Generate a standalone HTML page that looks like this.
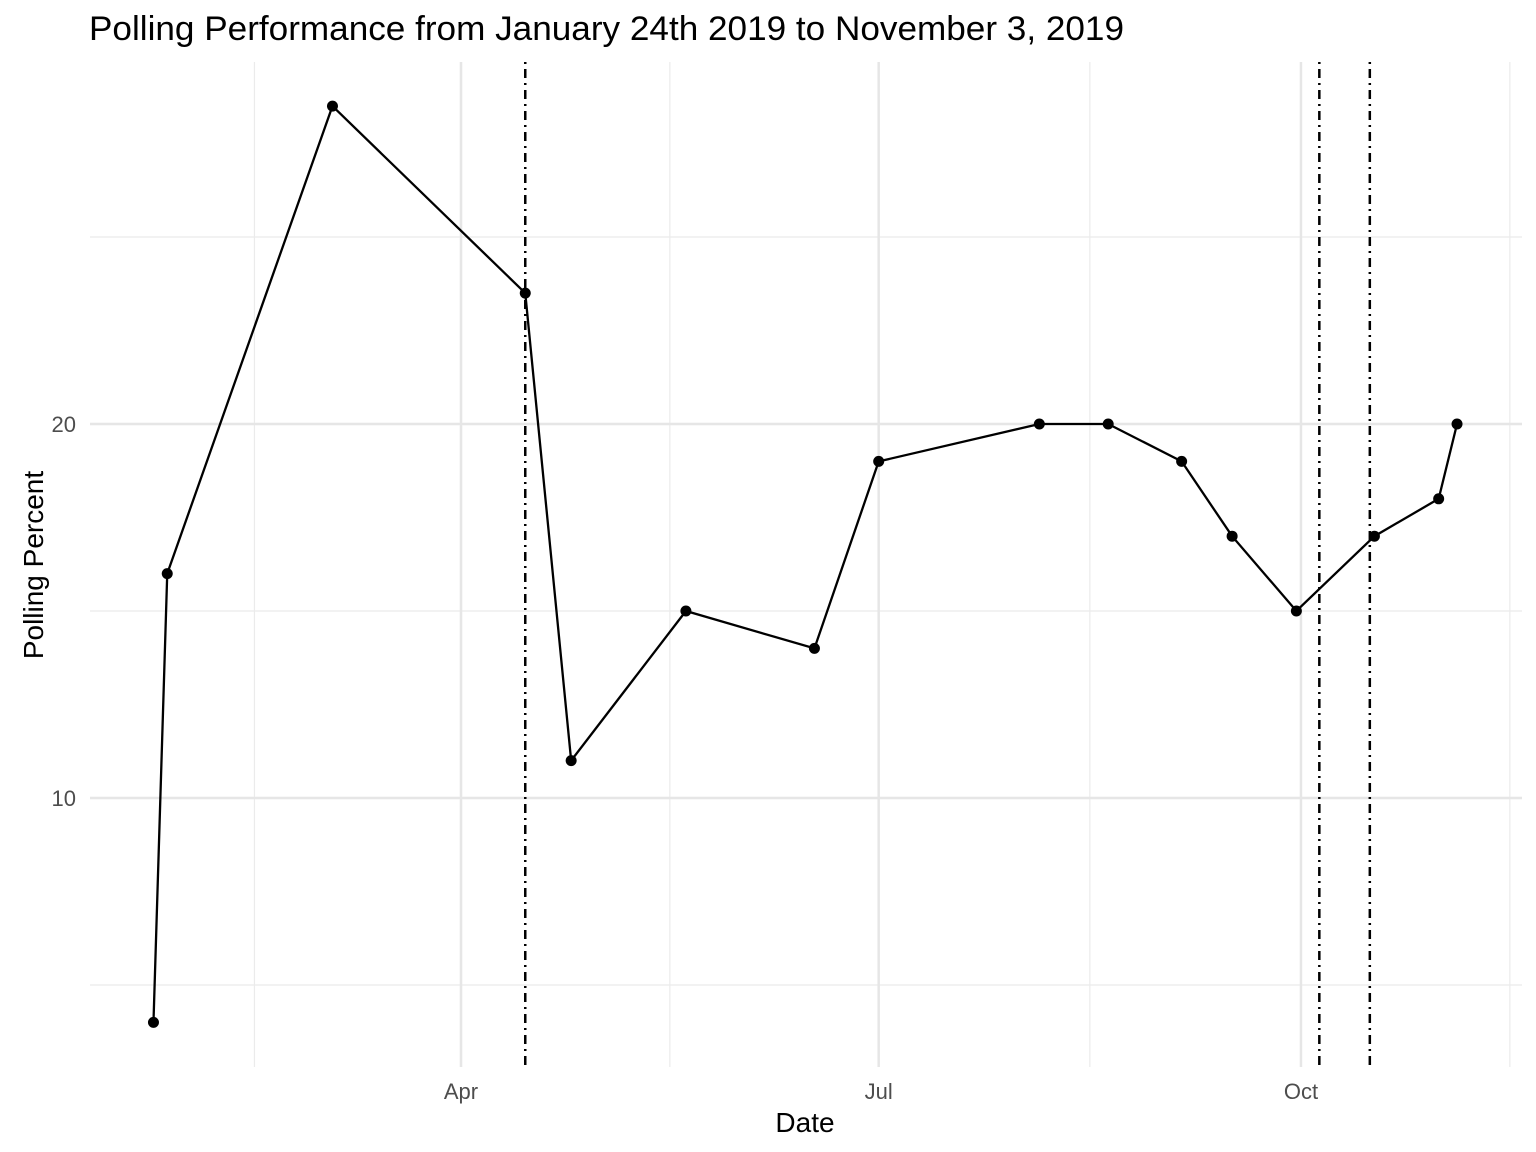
<!DOCTYPE html>
<html><head><meta charset="utf-8"><style>
body{margin:0;background:#fff;}
svg{display:block;font-family:"Liberation Sans",Arial,sans-serif;}
</style></head><body>
<svg id="chart" width="1536" height="1152" viewBox="0 0 1536 1152">
<text x="89" y="40" font-size="34" textLength="1035" lengthAdjust="spacingAndGlyphs" fill="#000">Polling Performance from January 24th 2019 to November 3, 2019</text>
<g id="grid"></g>
<g id="vlines"></g>
<g id="series"></g>
<g id="axes"></g>
<text x="805" y="1132" font-size="28" text-anchor="middle" fill="#000">Date</text>
<text transform="translate(43,565) rotate(-90)" font-size="28" text-anchor="middle" fill="#000">Polling Percent</text>
</svg>
<script>
// day-of-year (2019) and polling values
const dates = [24, 27, 63, 105, 115, 140, 168, 182, 217, 232, 248, 259, 273, 290, 304, 308];
const values = [4, 16, 28.5, 23.5, 11, 15, 14, 19, 20, 20, 19, 17, 15, 17, 18, 20];
const eventDates = [105, 278, 289];
const xTickDays = [91, 182, 274];
const xTickLabels = ["Apr", "Jul", "Oct"];
const xMinorDays = [46, 136.5, 228, 319.5];
const yTicks = [10, 20];
const yMinor = [5, 15, 25];

const NS = "http://www.w3.org/2000/svg";
const L = 90, R = 1522, T = 62, B = 1067;
const xs = d => 461 + (d - 91) * 4.59;
const ys = v => 424 - (v - 20) * 37.4;
function mk(tag, attrs, parent){const e=document.createElementNS(NS,tag);for(const k in attrs)e.setAttribute(k,attrs[k]);parent.appendChild(e);return e;}
const grid = document.getElementById('grid');
const axes = document.getElementById('axes');
yMinor.forEach(v=>{const l=mk('line',{x1:L,x2:R,y1:ys(v),y2:ys(v),stroke:'#ebebeb','stroke-width':1.2},grid);

});
xMinorDays.forEach(d=>{const l=mk('line',{x1:xs(d),x2:xs(d),y1:T,y2:B,stroke:'#ebebeb','stroke-width':1.2},grid);

});
yTicks.forEach(v=>{const l=mk('line',{x1:L,x2:R,y1:ys(v),y2:ys(v),stroke:'#e6e6e6','stroke-width':2.5},grid);


const t=mk('text',{x:76,y:ys(v)+8,'font-size':22,fill:'#4d4d4d','text-anchor':'end'},axes);t.textContent=v;

});
xTickDays.forEach((d,i)=>{const l=mk('line',{x1:xs(d),x2:xs(d),y1:T,y2:B,stroke:'#e6e6e6','stroke-width':2.5},grid);


const t=mk('text',{x:xs(d),y:1099,'font-size':22,fill:'#4d4d4d','text-anchor':'middle'},axes);t.textContent=xTickLabels[i];

});
const vl=document.getElementById('vlines');
eventDates.forEach(d=>{const l=mk('line',{x1:xs(d),x2:xs(d),y1:T,y2:B,stroke:'#000','stroke-width':2.5,'stroke-dasharray':'2,5,9,5'},vl);

});
const s=document.getElementById('series');
const p=mk('polyline',{points:dates.map((d,i)=>xs(d)+','+ys(values[i])).join(' '),fill:'none',stroke:'#000','stroke-width':2.3},s);


dates.forEach((d,i)=>{const c=mk('circle',{cx:xs(d),cy:ys(values[i]),r:5.5,fill:'#000'},s);

});
</script>
</body></html>
